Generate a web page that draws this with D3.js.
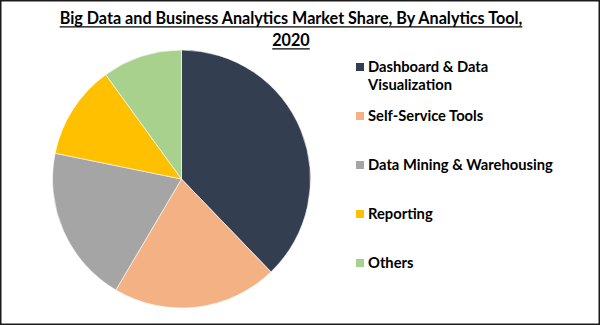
<!DOCTYPE html>
<html>
<head>
<meta charset="utf-8">
<script src="https://cdn.jsdelivr.net/npm/d3@7"></script>
<style>
  body { margin: 0; background: #fff; }
  text { font-family: Lato, "Open Sans", sans-serif; font-weight: bold; fill: #000; }
</style>
</head>
<body>
<div id="chart"></div>
<script>
// data
const title = "Big Data and Business Analytics Market Share, By Analytics Tool, 2020";
const categories = ["Dashboard & Data Visualization", "Self-Service Tools", "Data Mining & Warehousing", "Reporting", "Others"];
const shares = [37.8, 20.7, 19.7, 11.8, 10.0];
const colors = ["#333f50", "#f4b183", "#a5a5a5", "#ffc000", "#a9d18e"];

const width = 600, height = 325;

const svg = d3.select('#chart')
    .append('svg')
    .attr('width', width)
    .attr('height', height);

// frame
svg.append('rect')
    .attr('x', 0.75)
    .attr('y', 0.75)
    .attr('width', width - 1.5)
    .attr('height', height - 1.5)
    .attr('fill', '#fff')
    .attr('stroke', '#1a1a1a')
    .attr('stroke-width', 1.5);

// word wrap helper, measures with a hidden text node
let measure = svg.append('text').attr('visibility', 'hidden');
function textWidth(str, size) {
    measure.style('font-size', size + 'px').text(str);
    return measure.node().getComputedTextLength();
}
function wrap(str, size, maxW) {
    let words = str.split(' '), lines = [], cur = '';
    words.forEach(w => {
        let test = cur ? cur + ' ' + w : w;
        if (cur && textWidth(test, size) > maxW) { lines.push(cur); cur = w; }
        else cur = test;
    });
    lines.push(cur);
    return lines;
}

// title: sized so everything but the year spans ~463px, which pushes the year to line 2
let titleHead = title.slice(0, title.lastIndexOf(' '));
let titleSize = 14 * 463 / textWidth(titleHead, 14);
let titleLines = wrap(title, titleSize, 470);
let titleCx = 291;
titleLines.forEach((line, i) => {
    let y = 24 + i * 22;
    svg.append('text')
        .attr('x', titleCx)
        .attr('y', y)
        .attr('text-anchor', 'middle')
        .style('font-size', titleSize + 'px')
        .text(line);
    let w = textWidth(line, titleSize);
    svg.append('line')
        .attr('x1', titleCx - w / 2)
        .attr('x2', titleCx + w / 2)
        .attr('y1', y + 2.8)
        .attr('y2', y + 2.8)
        .attr('stroke', '#000')
        .attr('stroke-width', 1.2);
});

// pie
let pie = d3.pie().sort(null).value(d => d);
let arc = d3.arc().innerRadius(0).outerRadius(129);
let g = svg.append('g').attr('transform', 'translate(181.5,179)');
g.selectAll('path')
    .data(pie(shares))
    .enter()
    .append('path')
    .attr('d', arc)
    .attr('fill', (d, i) => colors[i])
    .attr('stroke', '#fff')
    .attr('stroke-width', 0.6);

// legend
let legendSize = 14 * 185 / textWidth("Data Mining & Warehousing", 14);
let yLegend = d3.scalePoint().domain(categories).range([67, 263]);
let items = svg.selectAll('g.legend')
    .data(categories)
    .enter()
    .append('g')
    .attr('class', 'legend')
    .attr('transform', d => 'translate(356,' + yLegend(d) + ')');

items.append('rect')
    .attr('x', 0)
    .attr('y', -4)
    .attr('width', 8)
    .attr('height', 8)
    .attr('fill', (d, i) => colors[i]);

items.each(function(d) {
    let lines = wrap(d, legendSize, 195);
    let t = d3.select(this).append('text')
        .attr('x', 12)
        .attr('y', 4.7)
        .style('font-size', legendSize + 'px');
    lines.forEach((line, i) => {
        t.append('tspan')
            .attr('x', 12)
            .attr('dy', i === 0 ? 0 : 18.5)
            .text(line);
    });
});

measure.remove();
</script>
</body>
</html>
